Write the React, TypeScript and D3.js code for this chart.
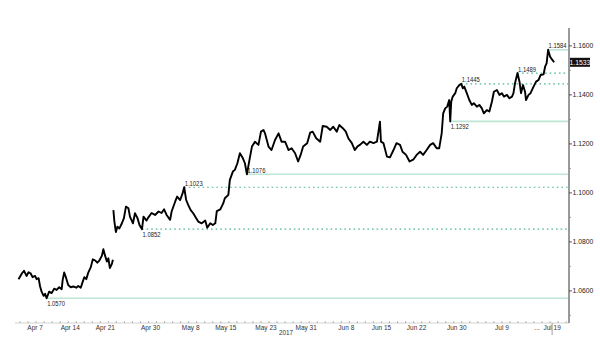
import React from "react";
import * as d3 from "d3";

// Days since 2017-04-01 (UTC) and EUR/USD price
const dayOffsets = [
  2.7,3.4,3.8,4.3,4.7,5.1,5.5,6.0,6.3,6.7,7.0,7.3,7.7,8.0,8.3,8.8,9.3,9.8,10.3,10.8,
  11.3,11.5,11.8,12.2,12.6,13.1,13.6,14.2,14.6,15.1,15.5,15.8,16.2,16.6,17.1,17.5,18.0,18.4,18.8,19.3,
  19.6,19.9,20.3,20.6,20.9,21.3,21.5,
  21.55,
  21.6,21.8,22.1,22.4,22.8,23.3,23.7,24.1,24.6,24.9,25.5,25.9,26.4,26.8,27.3,27.6,28.2,28.5,29.2,29.9,
  30.6,31.2,31.7,32.2,32.9,33.2,33.9,34.3,34.9,35.4,35.7,36.1,36.5,37.0,37.5,38.1,38.5,39.2,39.9,40.3,
  40.9,41.4,41.9,42.2,42.9,43.5,43.8,44.5,44.8,45.4,45.8,46.3,46.8,47.4,47.8,48.2,48.7,49.2,49.8,50.5,
  51.0,51.5,51.8,52.5,53.1,53.8,54.5,55.1,55.8,56.5,57.1,57.8,58.4,58.9,59.4,60.2,60.8,61.3,62.0,62.8,
  63.3,64.1,64.8,65.4,66.1,66.6,67.3,67.9,68.4,69.1,69.7,70.2,70.7,71.4,72.1,72.7,73.4,74.1,74.7,74.9,
  75.4,76.1,76.7,77.4,78.0,78.7,79.2,79.9,80.6,81.4,82.0,82.7,83.3,84.0,84.7,85.3,86.0,86.5,87.0,87.3,
  87.7,88.1,88.5,88.7,88.9,89.2,89.7,90.0,90.5,90.9,91.2,91.5,92.0,92.5,93.0,93.4,94.0,94.5,95.0,95.4,
  96.0,96.5,97.0,97.4,98.0,98.5,99.0,99.4,100.0,100.5,101.0,101.3,101.6,102.1,102.5,102.8,103.2,103.6,103.8,104.3,
  104.7,105.3,105.8,106.3,106.7,107.3,107.6,107.9,108.2,108.6,108.9,109.4,
];

const prices = [
  1.0648,1.0672,1.0682,1.0661,1.0676,1.0672,1.0656,1.0661,1.0648,1.0652,1.0618,1.0597,1.0580,1.0588,1.0570,1.0597,1.0591,1.0609,1.0604,1.0615,
  1.0607,1.0645,1.0675,1.0652,1.0624,1.0615,1.0618,1.0613,1.0620,1.0613,1.0638,1.0656,1.0648,1.0675,1.0697,1.0729,1.0724,1.0715,1.0724,1.0743,
  1.0770,1.0747,1.0720,1.0733,1.0693,1.0710,1.0727,
  NaN,
  1.0930,1.0883,1.0840,1.0862,1.0855,1.0876,1.0897,1.0944,1.0937,1.0903,1.0876,1.0917,1.0897,1.0869,1.0852,1.0903,1.0887,1.0898,1.0918,1.0910,
  1.0924,1.0918,1.0933,1.0910,1.0890,1.0924,1.0964,1.0985,1.0971,1.0999,1.1023,1.0971,1.0951,1.0930,1.0917,1.0897,1.0883,1.0876,1.0887,1.0858,
  1.0876,1.0869,1.0876,1.0926,1.0933,1.0958,1.0978,1.0992,1.1053,1.1087,1.1094,1.1121,1.1162,1.1141,1.1121,1.1076,1.1134,1.1189,1.1209,1.1196,
  1.1250,1.1257,1.1243,1.1189,1.1175,1.1216,1.1243,1.1209,1.1209,1.1175,1.1182,1.1162,1.1128,1.1155,1.1189,1.1203,1.1246,1.1250,1.1223,1.1209,
  1.1273,1.1270,1.1257,1.1270,1.1250,1.1277,1.1264,1.1250,1.1223,1.1203,1.1175,1.1189,1.1196,1.1209,1.1196,1.1209,1.1203,1.1209,1.1291,1.1209,
  1.1203,1.1148,1.1145,1.1175,1.1203,1.1196,1.1168,1.1155,1.1128,1.1137,1.1155,1.1168,1.1155,1.1175,1.1196,1.1203,1.1182,1.1182,1.1243,1.1325,
  1.1345,1.1352,1.1379,1.1292,1.1372,1.1393,1.1407,1.1427,1.1440,1.1445,1.1427,1.1434,1.1407,1.1379,1.1359,1.1366,1.1352,1.1359,1.1345,1.1325,
  1.1338,1.1332,1.1372,1.1413,1.1420,1.1400,1.1407,1.1393,1.1400,1.1386,1.1393,1.1407,1.1447,1.1489,1.1454,1.1407,1.1440,1.1413,1.1379,1.1400,
  1.1407,1.1434,1.1454,1.1461,1.1481,1.1484,1.1515,1.1529,1.1584,1.1556,1.1547,1.1533,
];

// Annotated levels
const levelValues = [1.0570, 1.0852, 1.1023, 1.1076, 1.1292, 1.1445, 1.1489, 1.1584];
const levelStartDays = [8.3, 27.3, 35.7, 48.2, 88.7, 90.9, 102.1, 108.2];
const levelKinds = ["solid", "dotted", "dotted", "solid", "solid", "dotted", "dotted", "solid"];
const levelLabelBelow = [true, true, false, false, true, false, false, false];

const lastPrice = 1.1533;

// Axis ticks
const xTickDates = ["2017-04-07","2017-04-14","2017-04-21","2017-04-30","2017-05-08","2017-05-15","2017-05-23","2017-05-31","2017-06-08","2017-06-15","2017-06-22","2017-06-30","2017-07-09","2017-07-16","2017-07-19"];
const xTickLabels = ["Apr 7","Apr 14","Apr 21","Apr 30","May 8","May 15","May 23","May 31","Jun 8","Jun 15","Jun 22","Jun 30","Jul 9","...","Jul 19"];
const yMajorTicks = [1.06, 1.08, 1.10, 1.12, 1.14, 1.16];
const yMinorTicks = [1.05, 1.07, 1.09, 1.11, 1.13, 1.15];
const yearLabel = "2017";

const W = 600, H = 355;
const BASE = Date.UTC(2017, 3, 1);
const dayToDate = (d: number) => new Date(BASE + d * 86400000);

export default function App() {
  const x = d3.scaleUtc().domain([dayToDate(2), dayToDate(112.56)]).range([15, 570]);
  const y = d3.scaleLinear().domain([1.0469, 1.1673]).range([323, 28]);
  const axisX = 569;
  const axisY = 323;

  const pts = dayOffsets.map((d, i) => ({ d, v: prices[i] }));
  const line = d3
    .line<{ d: number; v: number }>()
    .defined((p) => !isNaN(p.v))
    .x((p) => x(dayToDate(p.d)))
    .y((p) => y(p.v));

  const parse = d3.utcParse("%Y-%m-%d");
  const minorDays = d3.range(3, 112, 1.6);
  const font = "'Liberation Sans', Arial, sans-serif";

  return (
    <svg width={W} height={H} style={{ position: "absolute", left: 0, top: 0, background: "#fff" }} fontFamily={font}>
      <rect width={W} height={H} fill="#fff" />
      {/* levels */}
      {levelValues.map((v, i) => {
        const x0 = x(dayToDate(levelStartDays[i]));
        const yy = y(v);
        const solid = levelKinds[i] === "solid";
        return (
          <g key={"lv" + i}>
            <line
              x1={x0}
              x2={axisX - 1}
              y1={yy}
              y2={yy}
              stroke={solid ? "#bde6d4" : "#4fb596"}
              strokeWidth={solid ? 1.6 : 1.2}
              strokeDasharray={solid ? undefined : "1.6,3"}
            />
            <text
              x={x0 + 0.5}
              y={levelLabelBelow[i] ? yy + 8 : yy - 1.5}
              fontSize={7}
              fill="#222"
              textLength={18}
              lengthAdjust="spacingAndGlyphs"
            >
              {d3.format(".4f")(v)}
            </text>
          </g>
        );
      })}
      {/* price line */}
      <path d={line(pts) || ""} fill="none" stroke="#000" strokeWidth={1.9} strokeLinejoin="round" />
      {/* x axis */}
      <line x1={15} x2={axisX} y1={axisY} y2={axisY} stroke="#c8c8c8" strokeWidth={0.8} />
      {minorDays.map((d, i) => (
        <line key={"mx" + i} x1={x(dayToDate(d))} x2={x(dayToDate(d))} y1={axisY - 1.8} y2={axisY} stroke="#999" strokeWidth={0.8} />
      ))}
      {xTickDates.map((s, i) => {
        const xx = x(parse(s) as Date);
        return (
          <text key={"xt" + i} x={xx} y={axisY + 6.5} fontSize={6.5} fill="#333" textAnchor="middle">
            {xTickLabels[i]}
          </text>
        );
      })}
      <line
        x1={x(parse(xTickDates[xTickDates.length - 1]) as Date)}
        x2={x(parse(xTickDates[xTickDates.length - 1]) as Date)}
        y1={axisY}
        y2={axisY + 12}
        stroke="#888"
        strokeWidth={0.8}
      />
      <text x={x(parse("2017-05-27") as Date)} y={axisY + 12} fontSize={6.3} fill="#333" textAnchor="middle">
        {yearLabel}
      </text>
      {/* y axis */}
      <line x1={axisX} x2={axisX} y1={28} y2={axisY} stroke="#9a9a9a" strokeWidth={2} />
      {yMinorTicks.map((v, i) => (
        <line key={"ym" + i} x1={axisX} x2={axisX + 2} y1={y(v)} y2={y(v)} stroke="#888" strokeWidth={0.8} />
      ))}
      {yMajorTicks.map((v, i) => (
        <g key={"yt" + i}>
          <line x1={axisX} x2={axisX + 3} y1={y(v)} y2={y(v)} stroke="#333" strokeWidth={0.8} />
          <text x={axisX + 3.5} y={y(v) + 2.3} fontSize={6.8} fill="#222">
            {d3.format(".4f")(v)}
          </text>
        </g>
      ))}
      {/* last price box */}
      <rect x={axisX + 1} y={y(lastPrice) - 4.5} width={20} height={9} fill="#111" />
      <text x={axisX + 11} y={y(lastPrice) + 2.3} fontSize={6.8} fill="#fff" textAnchor="middle">
        {d3.format(".4f")(lastPrice)}
      </text>
    </svg>
  );
}
